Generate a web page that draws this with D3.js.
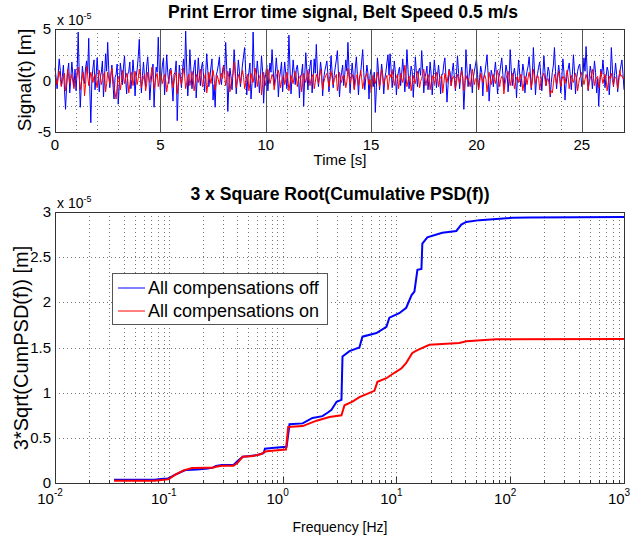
<!DOCTYPE html>
<html><head><meta charset="utf-8">
<script src="https://cdn.jsdelivr.net/npm/d3@7/dist/d3.min.js"></script>
<style>
html,body{margin:0;padding:0;background:#fff;}
svg{display:block;font-family:"Liberation Sans",Arial,Helvetica,sans-serif;}
</style></head>
<body>
<svg id="c" width="644" height="539"></svg>
<script>
// ---------- DATA ----------
const timeStep = 0.05; // s between samples
const signalOff = [ // x1e-5 m, compensations off (blue)
1.2,0.3,-0.8,0.6,2.1,1.0,-0.5,0.4,1.5,-0.9,-2.8,-0.6,0.9,1.7,-1.2,0.2,1.8,0.5,-0.6,1.1,
-1.0,0.8,4.7,0.6,-2.6,-0.4,1.4,0.3,-0.3,1.2,1.9,0.7,4.1,-0.8,-4.1,0.1,1.2,2.0,-0.9,0.4,
2.2,0.6,-1.1,0.3,0.8,1.9,-1.6,0.2,2.6,0.9,3.7,1.1,-0.7,0.5,1.5,-0.4,-1.8,0.3,0.6,1.6,
-2.3,-0.5,1.7,0.8,-0.4,1.3,2.4,0.2,-1.3,0.6,0.9,1.8,-0.8,0.1,2.0,0.7,-1.5,0.4,1.1,2.3,
4.0,0.9,-1.2,0.5,1.8,0.2,-0.6,1.4,2.3,0.6,-1.9,-0.3,0.7,1.6,-2.6,-0.2,1.3,0.8,4.2,1.0,
-0.9,0.4,1.6,2.2,-1.4,0.3,2.5,0.8,-0.3,1.1,1.2,-0.5,-2.0,0.6,0.8,1.9,-3.9,-0.7,1.5,0.4,
-0.7,1.0,2.1,0.5,4.8,1.3,-1.5,0.2,3.0,0.9,-0.8,0.4,1.4,2.0,-1.7,0.3,2.2,0.6,-0.5,1.2,
1.8,0.4,-1.1,0.7,2.6,1.0,-0.6,0.3,1.3,2.1,-1.9,-0.4,-2.6,0.5,0.9,1.5,2.3,0.2,-0.4,1.0,
1.5,0.6,3.7,1.1,-3.0,-0.5,1.2,0.4,-0.9,0.8,3.0,1.2,-1.3,0.3,2.0,0.9,-0.6,0.5,1.6,2.4,
3.2,0.8,-1.4,0.2,0.8,1.7,-1.8,-0.3,4.7,1.3,-0.7,0.5,1.9,0.6,-1.2,0.3,2.4,0.9,-2.2,0.1,
0.6,1.5,-1.0,0.4,1.7,0.8,3.0,1.1,-0.5,0.6,2.2,0.9,-1.6,0.2,0.9,1.8,-1.1,0.4,1.8,0.7,
-0.8,0.6,4.4,1.2,-1.3,0.3,2.0,0.8,-0.4,1.1,1.5,0.5,-1.7,0.2,0.7,1.6,-2.5,0.4,2.7,1.0,
-0.9,0.5,1.4,2.0,-1.2,0.3,2.1,0.7,3.5,1.0,-0.6,0.4,1.8,0.9,-1.5,0.2,0.9,1.4,1.9,0.6,
-1.1,0.4,2.4,0.8,-0.7,0.5,1.3,2.0,2.9,0.7,-1.6,0.1,0.8,1.5,-0.5,0.6,2.0,0.9,3.7,1.2,
-1.2,0.3,1.7,0.6,-0.8,1.2,2.3,0.5,-1.4,0.4,0.6,1.8,3.0,0.8,-0.9,0.3,1.5,0.7,-1.8,0.5,
1.1,0.3,-0.6,0.8,-3.1,-0.7,2.2,0.9,-0.9,0.4,1.6,0.6,-1.3,0.2,0.8,1.7,2.5,0.5,2.6,1.0,
-0.7,0.4,1.9,0.8,-1.4,0.2,0.9,1.3,-0.5,0.6,2.1,0.7,-1.1,0.4,3.0,1.1,-0.8,0.3,1.4,0.9,
-1.6,0.2,2.3,0.7,-0.6,0.9,1.2,0.5,2.9,1.0,-1.2,0.3,0.7,1.4,-0.9,0.2,1.8,0.6,-1.4,0.4,
2.0,0.8,-0.7,0.5,1.5,0.3,-1.3,0.6,0.6,1.6,2.2,0.4,-2.1,-0.5,1.1,0.8,-0.5,0.9,1.7,0.3,
-1.0,0.6,2.4,0.7,-0.8,0.5,1.3,0.2,-2.8,-0.6,3.0,1.1,-0.6,0.4,1.6,0.7,-1.2,0.3,0.9,1.5,
2.1,0.6,-0.9,0.3,1.4,0.8,-1.5,0.4,0.8,1.6,2.5,0.7,-2.0,-0.3,1.0,0.5,-0.6,0.8,1.8,0.4,
-1.3,0.2,0.7,1.5,2.2,0.6,-0.8,0.4,1.5,0.9,-1.1,0.3,3.0,1.0,-0.5,0.6,1.2,0.4,-1.7,0.5,
2.0,0.7,-0.6,0.4,1.6,0.9,-1.2,0.3,0.9,1.4,2.3,0.8,-0.9,0.5,3.2,1.0,-1.4,0.2,0.7,1.3,
1.8,0.5,-1.0,0.6,2.4,0.8,-0.5,0.3,1.3,0.9,-1.6,-0.2,0.8,1.5,3.2,0.9,-0.8,0.4,1.5,0.6,
-1.2,0.3,2.1,0.8,-1.9,-0.4,0.6,1.1,1.7,0.5,-0.9,0.6,2.5,0.9,-1.3,0.2,0.9,1.4,1.6,0.5,
-0.6,0.4,2.2,0.9,3.3,1.0,-1.0,0.3,1.4,0.7,-0.8,0.5,1.9,0.8,-1.2,0.2,-2.5,-0.3,1.1,0.6,
2.0,0.7,-0.7,0.4,1.3,0.9,-1.4,0.2,3.2,1.1,-0.6,0.5,1.7,0.6,-1.1,0.3,0.8,1.4,2.0,0.7,
-0.9];
const signalOn = [ // x1e-5 m, compensations on (red)
0.5,0.1,-0.4,0.3,0.9,0.2,-0.6,-0.1,0.3,0.7,-1.0,-0.3,1.1,0.4,-0.3,0.2,0.6,-0.2,-0.8,0.1,
0.2,0.6,1.3,0.3,-0.9,-0.2,0.4,0.8,-1.5,-0.4,1.4,0.5,-0.5,0.1,0.8,0.3,-0.2,0.4,0.6,-0.1,
-0.7,0.2,1.0,0.4,-0.4,0.1,0.5,0.8,-1.1,-0.3,0.8,0.2,-0.3,0.5,1.2,0.3,-0.6,-1.2,-1.8,-0.5,
0.4,0.1,-0.9,-0.2,1.0,0.4,-0.3,0.2,0.7,0.1,-1.2,-0.4,0.5,0.8,-0.5,0.1,0.9,0.3,-0.4,0.2,
1.1,0.4,-0.7,-0.1,0.3,0.6,-1.0,-0.3,0.8,0.2,-0.2,0.5,1.3,0.4,-0.8,-0.2,0.4,0.7,-0.6,0.1,
0.9,0.3,-0.3,0.2,0.6,0.1,-1.1,-0.4,0.2,0.5,1.0,0.3,-0.7,-0.1,0.5,0.8,-1.3,-0.4,0.7,0.2,
-0.4,0.3,1.2,0.5,-0.8,-0.2,0.3,0.6,-0.5,0.1,0.9,0.4,-1.0,-0.3,0.6,0.2,-0.2,0.5,1.1,0.3,
-0.6,0.1,0.4,0.7,-1.2,-0.4,0.8,0.2,-0.3,0.4,1.0,0.3,-0.9,-0.2,0.5,0.1,-0.4,0.3,0.7,0.2,
1.4,0.5,-0.5,0.1,0.9,0.3,-1.1,-0.3,0.3,0.7,1.8,0.6,-0.7,-0.1,0.6,0.2,-0.3,0.4,1.0,0.3,
-0.8,-0.2,0.4,0.6,-1.0,-0.3,0.7,0.2,-0.2,0.5,1.2,0.4,-0.6,0.1,0.3,0.6,-1.4,-0.4,0.8,0.2,
-0.5,0.2,1.1,0.4,-0.3,0.1,0.6,0.3,-0.9,-0.2,0.4,0.7,1.0,0.2,-0.7,-0.1,0.2,0.5,-0.4,0.1,
0.8,0.2,-1.0,-0.3,0.5,0.1,-0.3,0.4,0.9,0.3,-0.6,0.1,0.3,0.5,-1.1,-0.3,0.7,0.2,-0.2,0.4,
1.0,0.3,-0.5,0.1,0.4,0.6,-0.8,-0.2,0.6,0.2,-0.3,0.4,1.1,0.3,-0.9,-0.2,0.2,0.5,0.7,0.1,
-0.6,0.2,0.9,0.3,-0.4,0.1,0.3,0.6,-1.0,-0.3,0.8,0.2,-0.2,0.4,0.5,0.1,-0.7,-0.1,1.2,0.4,
-0.3,0.2,0.6,0.1,-0.9,-0.2,0.4,0.6,-0.5,0.1,1.0,0.3,-0.8,-0.2,0.3,0.5,0.7,0.2,-0.4,0.1,
-1.2,-0.4,0.5,0.2,-0.3,0.3,0.8,0.2,-0.6,0.1,1.1,0.4,-0.4,0.1,0.2,0.5,-0.9,-0.2,0.6,0.3,
1.0,0.3,-0.5,0.1,0.3,0.6,-0.8,-0.2,0.7,0.2,-0.2,0.4,1.5,0.5,-0.6,-0.1,0.4,0.2,-1.0,-0.3,
0.5,0.1,-0.3,0.4,0.9,0.3,-0.7,-0.1,0.2,0.6,1.1,0.3,-0.5,0.1,0.6,0.2,-0.9,-0.2,0.3,0.5,
-0.4,0.2,0.8,0.3,-0.6,0.1,0.3,0.5,-1.2,-0.3,0.7,0.2,-0.2,0.4,1.0,0.3,-0.5,0.1,0.4,0.2,
-0.8,-0.2,0.6,0.2,-0.3,0.4,0.9,0.3,-1.0,-0.2,0.5,0.1,0.2,-0.1,-0.6,0.2,1.1,0.4,-0.4,0.1,
0.3,0.1,-0.9,-0.2,0.7,0.2,-0.2,0.3,0.5,0.1,-1.1,-0.3,0.8,0.2,-0.4,0.2,0.6,0.1,-0.3,0.4,
1.0,0.3,-0.6,0.1,0.4,0.2,-1.3,-0.4,0.2,0.5,0.9,0.3,-0.5,0.1,0.7,0.2,-0.8,-0.2,0.3,0.4,
-0.2,0.2,0.6,0.1,-1.0,-0.3,0.4,0.2,-0.4,0.3,0.8,0.2,-0.7,-0.1,1.1,0.4,-0.3,0.1,0.5,0.2,
-0.9,-0.2,0.3,0.5,0.7,0.1,-0.5,0.1,0.2,-0.4,-1.4,-1.0,-1.2,-0.3,0.6,0.2,-0.4,0.3,0.9,0.2,
-0.6,0.1,0.4,0.2,-0.3,0.4,1.0,0.3,-0.8,-0.2,0.5,0.1,-0.2,0.3,0.7,0.2,-1.0,-0.3,0.3,0.4,
0.8,0.2,-0.4,0.1,0.6,0.2,-0.9,-0.2,0.2,0.5,1.1,0.3,-0.5,0.1,0.3,0.4,-0.7,-0.1,0.9,0.3,
-0.3,0.2,0.6,0.1,-1.0,-0.3,0.4,0.2,0.7,0.1,-0.5,0.2,0.3,0.1,-0.8,-0.2,1.0,0.4,0.5,0.2,
0.2];

const freqOff = [0.033,0.075,0.085,0.098,0.102,0.113,0.135,0.144,0.176,0.22,0.243,0.26,0.292,0.37,0.40,0.446,0.52,0.60,0.68,0.70,0.85,1.084,1.15,1.5,1.83,2.24,2.5,2.69,2.98,3.29,3.36,3.87,4.73,5.03,6.68,8.17,8.68,10.6,12.2,13.6,14.4,15.3,16.6,16.9,18.7,25.3,33.6,37.2,41.1,53.5,104,147,1000];
const cumOff  = [0.035,0.035,0.045,0.05,0.06,0.09,0.135,0.145,0.15,0.16,0.17,0.19,0.20,0.20,0.24,0.29,0.30,0.31,0.33,0.38,0.39,0.40,0.65,0.66,0.72,0.74,0.78,0.81,0.90,0.92,1.40,1.46,1.50,1.62,1.66,1.73,1.83,1.88,1.94,2.08,2.12,2.36,2.37,2.65,2.72,2.77,2.79,2.86,2.89,2.91,2.935,2.94,2.945];
const freqOn  = [0.033,0.075,0.098,0.102,0.113,0.135,0.16,0.22,0.243,0.26,0.292,0.37,0.40,0.446,0.55,0.65,0.70,0.85,1.07,1.12,1.5,1.99,2.58,3.29,3.50,4.11,4.73,6.41,6.81,8.17,9.60,11.1,12.2,13.8,15.3,19.5,35.7,41.1,75.4,1000];
const cumOn   = [0.025,0.025,0.04,0.05,0.09,0.14,0.165,0.17,0.17,0.18,0.19,0.19,0.22,0.29,0.30,0.32,0.35,0.36,0.37,0.62,0.63,0.69,0.73,0.75,0.86,0.90,0.95,1.02,1.12,1.16,1.22,1.27,1.33,1.44,1.47,1.53,1.55,1.57,1.59,1.595];

const topTitle = "Print Error time signal, Belt Speed 0.5 m/s";
const botTitle = "3 x Square Root(Cumulative PSD(f))";
const legendLabels = ["All compensations off","All compensations on"];
const timeTicks = [0,5,10,15,20,25];
const sigTicks = [-5,0,5];
const cumTicks = [0,0.5,1,1.5,2,2.5,3];
const decadeExps = [-2,-1,0,1,2,3];

const BLUE = "#0000ff", RED = "#ff0000";
const svg = d3.select("#c");
const L = 55, R = 624;
const TICKFS = 15;

// ---------- TOP ----------
const xT = d3.scaleLinear().domain([0,27]).range([L,R]);
const yT = d3.scaleLinear().domain([-5,5]).range([132,29]);
const gT = svg.append("g");
const minorT = d3.range(1,27).filter(d=>d%5!==0);
gT.selectAll(".vg").data(minorT).join("line")
  .attr("x1",d=>Math.round(xT(d))+0.5).attr("x2",d=>Math.round(xT(d))+0.5).attr("y1",yT(5)).attr("y2",yT(-5))
  .attr("stroke","#777").attr("stroke-dasharray","1,3");
gT.selectAll(".hg").data([-2.5,2.5]).join("line")
  .attr("x1",L).attr("x2",R).attr("y1",d=>Math.round(yT(d))+0.5).attr("y2",d=>Math.round(yT(d))+0.5)
  .attr("stroke","#777").attr("stroke-dasharray","1,3");
const lineT = d3.line().x((d,i)=>xT(i*timeStep)).y(d=>yT(d));
gT.append("path").attr("d",lineT(signalOff)).attr("fill","none").attr("stroke",BLUE).attr("stroke-width",1);
gT.append("path").attr("d",lineT(signalOn)).attr("fill","none").attr("stroke",RED).attr("stroke-width",1);
gT.selectAll(".mg").data([5,10,15,20,25]).join("line")
  .attr("x1",d=>Math.round(xT(d))+0.5).attr("x2",d=>Math.round(xT(d))+0.5).attr("y1",yT(5)).attr("y2",yT(-5))
  .attr("stroke","#555").attr("stroke-width",1);
gT.append("rect").attr("x",L+0.5).attr("y",29.5).attr("width",R-L).attr("height",103)
  .attr("fill","none").attr("stroke","#333");
gT.selectAll(".xl").data(timeTicks).join("text")
  .attr("x",d=>xT(d)).attr("y",150).attr("text-anchor","middle").attr("font-size",TICKFS).text(d=>d);
gT.selectAll(".yl").data(sigTicks).join("text")
  .attr("x",51).attr("y",d=>yT(d)+5).attr("text-anchor","end").attr("font-size",TICKFS).text(d=>d);
gT.append("text").attr("x",57).attr("y",25).attr("font-size",14)
  .html('x 10<tspan dy="-6" font-size="9">-5</tspan>');
gT.append("text").attr("x",343).attr("y",18).attr("text-anchor","middle").attr("font-size",17.6)
  .attr("font-weight","bold").text(topTitle);
gT.append("text").attr("x",340).attr("y",165).attr("text-anchor","middle").attr("font-size",15).text("Time [s]");
gT.append("text").attr("transform","translate(31,80) rotate(-90)").attr("text-anchor","middle")
  .attr("font-size",19).text("Signal(t)  [m]");

// ---------- BOTTOM ----------
const xB = d3.scaleLog().domain([0.01,1000]).range([L,R]);
const yB = d3.scaleLinear().domain([0,3]).range([483,212]);
const gB = svg.append("g");
const logGrid = [];
decadeExps.slice(0,-1).forEach(e=>{ for(let k=1;k<10;k++) logGrid.push(k*Math.pow(10,e)); });
const gridX = logGrid.filter(d=>d>0.0101);
gB.selectAll(".vg").data(gridX).join("line")
  .attr("x1",d=>Math.round(xB(d))+0.5).attr("x2",d=>Math.round(xB(d))+0.5).attr("y1",212).attr("y2",483)
  .attr("stroke","#777").attr("stroke-dasharray","1,3");
gB.selectAll(".hg").data(cumTicks.slice(1,-1)).join("line")
  .attr("x1",L).attr("x2",R).attr("y1",d=>Math.round(yB(d))+0.5).attr("y2",d=>Math.round(yB(d))+0.5)
  .attr("stroke","#777").attr("stroke-dasharray","1,3");
gB.selectAll(".tk").data(gridX).join("line")
  .attr("x1",d=>Math.round(xB(d))+0.5).attr("x2",d=>Math.round(xB(d))+0.5)
  .attr("y1",483).attr("y2",d=>decadeExps.some(e=>Math.abs(Math.pow(10,e)-d)<1e-9)?477:480)
  .attr("stroke","#333");
const lineB = d3.line().x(d=>xB(d[0])).y(d=>yB(d[1]));
gB.append("path").attr("d",lineB(freqOff.map((f,i)=>[f,cumOff[i]]))).attr("fill","none")
  .attr("stroke",BLUE).attr("stroke-width",2);
gB.append("path").attr("d",lineB(freqOn.map((f,i)=>[f,cumOn[i]]))).attr("fill","none")
  .attr("stroke",RED).attr("stroke-width",2);
gB.append("rect").attr("x",L+0.5).attr("y",212.5).attr("width",R-L).attr("height",271)
  .attr("fill","none").attr("stroke","#333");
gB.selectAll(".xl").data(decadeExps).join("text")
  .attr("x",d=>xB(Math.pow(10,d))-5).attr("y",504).attr("text-anchor","middle").attr("font-size",TICKFS)
  .html(d=>'10<tspan dy="-8" font-size="10">'+d+'</tspan>');
gB.selectAll(".yl").data(cumTicks).join("text")
  .attr("x",51).attr("y",d=>yB(d)+5).attr("text-anchor","end").attr("font-size",TICKFS).text(d=>d);
gB.append("text").attr("x",57).attr("y",208).attr("font-size",14)
  .html('x 10<tspan dy="-6" font-size="9">-5</tspan>');
gB.append("text").attr("x",340).attr("y",200).attr("text-anchor","middle").attr("font-size",17.6)
  .attr("font-weight","bold").text(botTitle);
gB.append("text").attr("x",340).attr("y",532).attr("text-anchor","middle").attr("font-size",14).text("Frequency [Hz]");
gB.append("text").attr("transform","translate(28,348) rotate(-90)").attr("text-anchor","middle")
  .attr("font-size",20).text("3*Sqrt(CumPSD(f))  [m]");

// legend
const lg = gB.append("g");
lg.append("rect").attr("x",112.5).attr("y",273.5).attr("width",215).attr("height",51)
  .attr("fill","#fff").attr("stroke","#555");
[BLUE,RED].forEach((c,i)=>{
  const y = 288 + i*23;
  lg.append("line").attr("x1",118).attr("x2",145).attr("y1",y).attr("y2",y).attr("stroke",c).attr("stroke-width",1);
  lg.append("text").attr("x",148).attr("y",y+6).attr("font-size",18).text(legendLabels[i]);
});
</script>
</body></html>
